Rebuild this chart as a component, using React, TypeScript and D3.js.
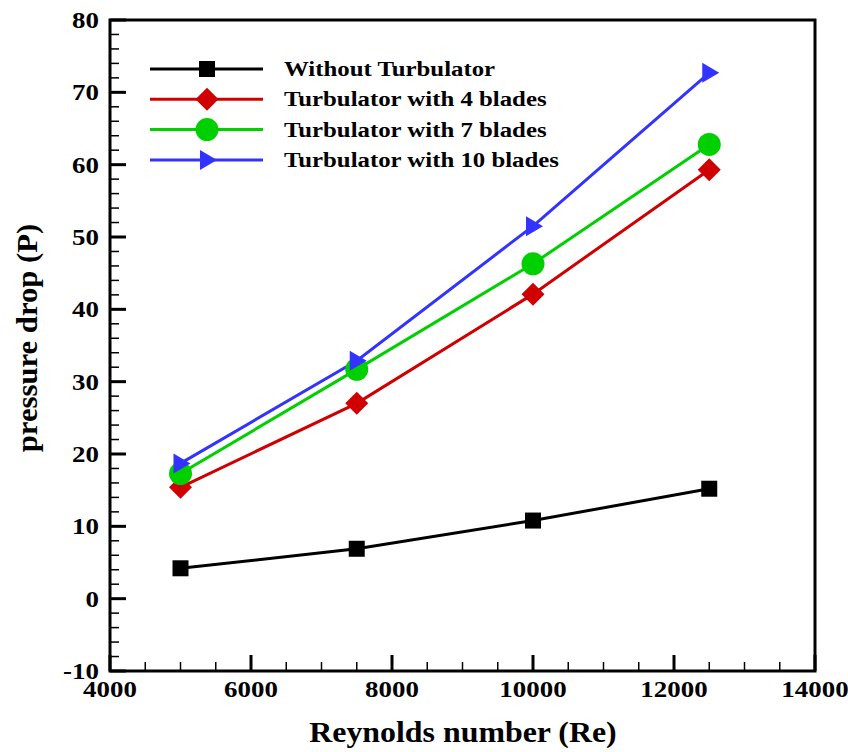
import { useEffect, useRef } from 'react';
import * as d3 from 'd3';

const reynolds = [5000, 7500, 10000, 12500];
const withoutTurbulator = [4.2, 6.9, 10.8, 15.2];
const blades4 = [15.4, 27.0, 42.1, 59.3];
const blades7 = [17.3, 31.7, 46.3, 62.8];
const blades10 = [18.7, 32.9, 51.5, 72.7];
const seriesNames = [
  'Without Turbulator',
  'Turbulator with 4 blades',
  'Turbulator with 7 blades',
  'Turbulator with 10 blades',
];
const xTicks = [4000, 6000, 8000, 10000, 12000, 14000];
const yTicks = [-10, 0, 10, 20, 30, 40, 50, 60, 70, 80];

const W = 848;
const H = 752;
const FONT = 'Liberation Serif, Tinos, Times New Roman, DejaVu Serif, serif';

export default function App() {
  const svgRef = useRef<SVGSVGElement>(null);

  useEffect(() => {
    document.body.style.margin = '0';
    if (!svgRef.current) return;
    const svg = d3.select(svgRef.current);
    svg.selectAll('*').remove();

    const x = d3.scaleLinear().domain([4000, 14000]).range([110, 815]);
    const y = d3.scaleLinear().domain([-10, 80]).range([671, 20]);

    const series = [
      { name: seriesNames[0], values: withoutTurbulator, color: '#000000', shape: 'square' },
      { name: seriesNames[1], values: blades4, color: '#d00000', shape: 'diamond' },
      { name: seriesNames[2], values: blades7, color: '#00d000', shape: 'circle' },
      { name: seriesNames[3], values: blades10, color: '#3333ff', shape: 'triangle' },
    ];

    // marker drawing
    const drawMarker = (g: any, shape: string, color: string, cx: number, cy: number) => {
      if (shape === 'square') {
        g.append('rect').attr('x', cx - 8).attr('y', cy - 8).attr('width', 16).attr('height', 16).attr('fill', color);
      } else if (shape === 'diamond') {
        g.append('path').attr('d', `M${cx},${cy - 11.5}L${cx + 11.5},${cy}L${cx},${cy + 11.5}L${cx - 11.5},${cy}Z`).attr('fill', color);
      } else if (shape === 'circle') {
        g.append('circle').attr('cx', cx).attr('cy', cy).attr('r', 11.5).attr('fill', color);
      } else {
        g.append('path').attr('d', `M${cx - 7},${cy - 10}L${cx + 10},${cy}L${cx - 7},${cy + 10}Z`).attr('fill', color);
      }
    };

    const txt = (sel: any, size: number) =>
      sel.style('font-family', FONT).style('font-weight', 'bold').style('font-size', `${size}px`);

    // the original font is a wider Times; stretch glyphs horizontally
    const stretch = (sel: any, k: number) => {
      sel.each(function (this: SVGTextElement) {
        const len = this.getComputedTextLength();
        d3.select(this).attr('textLength', len * k).attr('lengthAdjust', 'spacingAndGlyphs');
      });
      return sel;
    };

    // minor ticks
    const xMinor = d3.range(4000, 14001, 500).filter(v => v % 2000 !== 0);
    const yMinor = d3.range(-10, 81, 2).filter(v => v % 10 !== 0);
    svg.append('g').selectAll('line').data(xMinor).enter().append('line')
      .attr('x1', d => x(d)).attr('x2', d => x(d))
      .attr('y1', y(-10)).attr('y2', y(-10) - 9)
      .attr('stroke', '#000').attr('stroke-width', 1.5);
    svg.append('g').selectAll('line').data(yMinor).enter().append('line')
      .attr('x1', x(4000)).attr('x2', x(4000) + 9)
      .attr('y1', d => y(d)).attr('y2', d => y(d))
      .attr('stroke', '#000').attr('stroke-width', 1.5);

    // major ticks
    svg.append('g').selectAll('line').data(xTicks).enter().append('line')
      .attr('x1', d => x(d)).attr('x2', d => x(d))
      .attr('y1', y(-10)).attr('y2', y(-10) - 16)
      .attr('stroke', '#000').attr('stroke-width', 3);
    svg.append('g').selectAll('line').data(yTicks).enter().append('line')
      .attr('x1', x(4000)).attr('x2', x(4000) + 16)
      .attr('y1', d => y(d)).attr('y2', d => y(d))
      .attr('stroke', '#000').attr('stroke-width', 3);

    // frame
    svg.append('rect')
      .attr('x', x(4000)).attr('y', y(80))
      .attr('width', x(14000) - x(4000)).attr('height', y(-10) - y(80))
      .attr('fill', 'none').attr('stroke', '#000').attr('stroke-width', 3);

    // tick labels
    const xl = txt(svg.append('g').selectAll('text').data(xTicks).enter().append('text')
      .attr('x', d => x(d)).attr('y', y(-10) + 26)
      .attr('text-anchor', 'middle'), 23)
      .text(d => String(d));
    stretch(xl, 1.17);
    const yl = txt(svg.append('g').selectAll('text').data(yTicks).enter().append('text')
      .attr('x', x(4000) - 11).attr('y', d => y(d) + 8)
      .attr('text-anchor', 'end'), 23)
      .text(d => String(d));
    stretch(yl, 1.17);

    // axis titles
    const xt = txt(svg.append('text')
      .attr('x', 463).attr('y', 742)
      .attr('text-anchor', 'middle'), 29.5)
      .text('Reynolds number (Re)');
    stretch(xt, 1.08);
    const yt = txt(svg.append('text')
      .attr('transform', `translate(37, 338) rotate(-90)`)
      .attr('text-anchor', 'middle'), 29.5)
      .text('pressure drop (P)');
    stretch(yt, 1.04);

    // series lines + markers
    const line = d3.line<number>().x((_, i) => x(reynolds[i])).y(d => y(d));
    series.forEach(s => {
      svg.append('path')
        .attr('d', line(s.values))
        .attr('fill', 'none').attr('stroke', s.color).attr('stroke-width', 3);
    });
    series.forEach(s => {
      const g = svg.append('g');
      s.values.forEach((v, i) => drawMarker(g, s.shape, s.color, x(reynolds[i]), y(v)));
    });

    // legend
    const legend = svg.append('g');
    series.forEach((s, i) => {
      const ly = 69 + i * 30.3;
      legend.append('line')
        .attr('x1', 150).attr('x2', 263).attr('y1', ly).attr('y2', ly)
        .attr('stroke', s.color).attr('stroke-width', 3);
      drawMarker(legend, s.shape, s.color, 207, ly);
      const t = txt(legend.append('text')
        .attr('x', 284).attr('y', ly + 7), 20)
        .text(s.name);
      stretch(t, 1.24);
    });
  }, []);

  return <svg ref={svgRef} width={W} height={H} style={{ display: 'block', background: '#fff' }} />;
}
